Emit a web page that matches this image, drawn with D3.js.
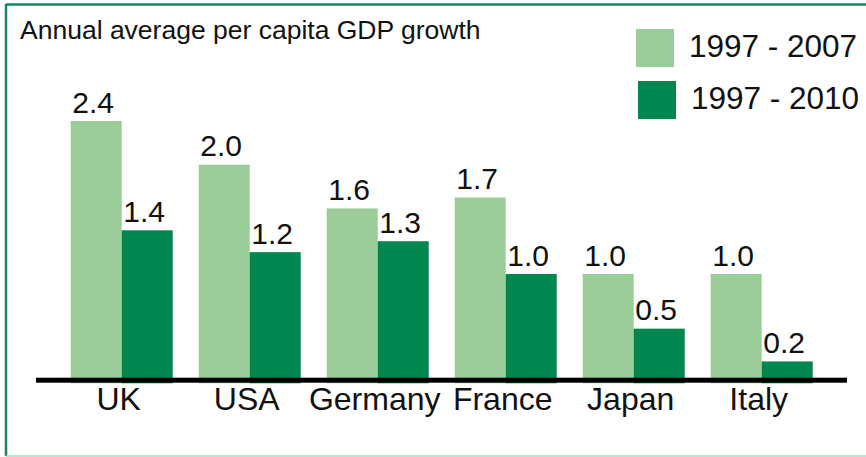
<!doctype html>
<html lang="en">
<head>
<meta charset="utf-8">
<title>Annual average per capita GDP growth</title>
<script src="https://d3js.org/d3.v7.min.js"></script>
<style>
  body { margin: 0; background: #fff; }
  text { font-family: "Liberation Sans", Arial, sans-serif; fill: #111; }
</style>
</head>
<body>
<div id="main"></div>
<script>
const countries = ['UK', 'USA', 'Germany', 'France', 'Japan', 'Italy']
const seriesNames = ['1997 - 2007', '1997 - 2010']
const growth1997to2007 = [2.4, 2.0, 1.6, 1.7, 1.0, 1.0]
const growth1997to2010 = [1.4, 1.2, 1.3, 1.0, 0.5, 0.2]
const colours = ['#9bcd99', '#00874f']

const width = 866, height = 457

const svg = d3.select('#main').append('svg')
  .attr('width', width)
  .attr('height', height)

// frame
svg.append('line').attr('x1', 6).attr('x2', width).attr('y1', 4.5).attr('y2', 4.5)
  .attr('stroke', '#13885a').attr('stroke-width', 2.5)
svg.append('line').attr('x1', 6).attr('x2', 6).attr('y1', 4).attr('y2', 456)
  .attr('stroke', '#13885a').attr('stroke-width', 2.5)
svg.append('line').attr('x1', 6).attr('x2', width).attr('y1', 456).attr('y2', 456)
  .attr('stroke', '#a6d8c2').attr('stroke-width', 1.5)

svg.append('text')
  .attr('x', 20).attr('y', 39)
  .style('font-size', '26.5px')
  .text('Annual average per capita GDP growth')

const x = d3.scaleBand()
  .domain(countries)
  .range([57.7, 825.7])
  .paddingInner(0.203)
  .paddingOuter(0.1016)

const xSub = d3.scaleBand()
  .domain(seriesNames)
  .range([0, x.bandwidth()])

const y = d3.scaleLinear()
  .domain([0, 2.4])
  .range([383.3, 121])

const rows = countries.map((c, i) => ({
  country: c,
  values: [growth1997to2007[i], growth1997to2010[i]].map((v, j) => ({ series: seriesNames[j], value: v, colour: colours[j] }))
}))

const groups = svg.append('g').selectAll('g')
  .data(rows)
  .enter().append('g')
  .attr('transform', d => `translate(${x(d.country)},0)`)

groups.selectAll('rect')
  .data(d => d.values)
  .enter().append('rect')
  .attr('x', d => xSub(d.series))
  .attr('width', xSub.bandwidth())
  .attr('y', d => y(d.value))
  .attr('height', d => y(0) - y(d.value))
  .attr('fill', d => d.colour)

groups.selectAll('text.val')
  .data(d => d.values)
  .enter().append('text')
  .attr('class', 'val')
  .attr('x', d => xSub(d.series) + xSub.bandwidth() / 2 - 3)
  .attr('y', d => y(d.value) - 8.5)
  .attr('text-anchor', 'middle')
  .style('font-size', '30px')
  .text(d => d.value.toFixed(1))

// baseline
svg.append('rect')
  .attr('x', 36).attr('width', 811)
  .attr('y', 377.7).attr('height', 5)
  .attr('fill', '#000')

const xAxis = svg.append('g')
  .attr('transform', `translate(0,${y(0)})`)
  .call(d3.axisBottom(x).tickSize(0).tickPadding(0))
xAxis.select('.domain').remove()
xAxis.selectAll('text')
  .attr('dy', null)
  .attr('y', 27)
  .attr('x', -3)
  .attr('font-family', null)
  .style('font-size', '32px')
  .style('fill', '#111')

// legend
const legend = svg.append('g').selectAll('g')
  .data(seriesNames)
  .enter().append('g')
  .attr('transform', (d, i) => `translate(${636 + i * 2},${29 + i * 52})`)

legend.append('rect')
  .attr('width', 38).attr('height', 38)
  .attr('fill', (d, i) => colours[i])

legend.append('text')
  .attr('x', 53 - 0).attr('y', 28)
  .style('font-size', '31.5px')
  .text(d => d)
</script>
</body>
</html>
